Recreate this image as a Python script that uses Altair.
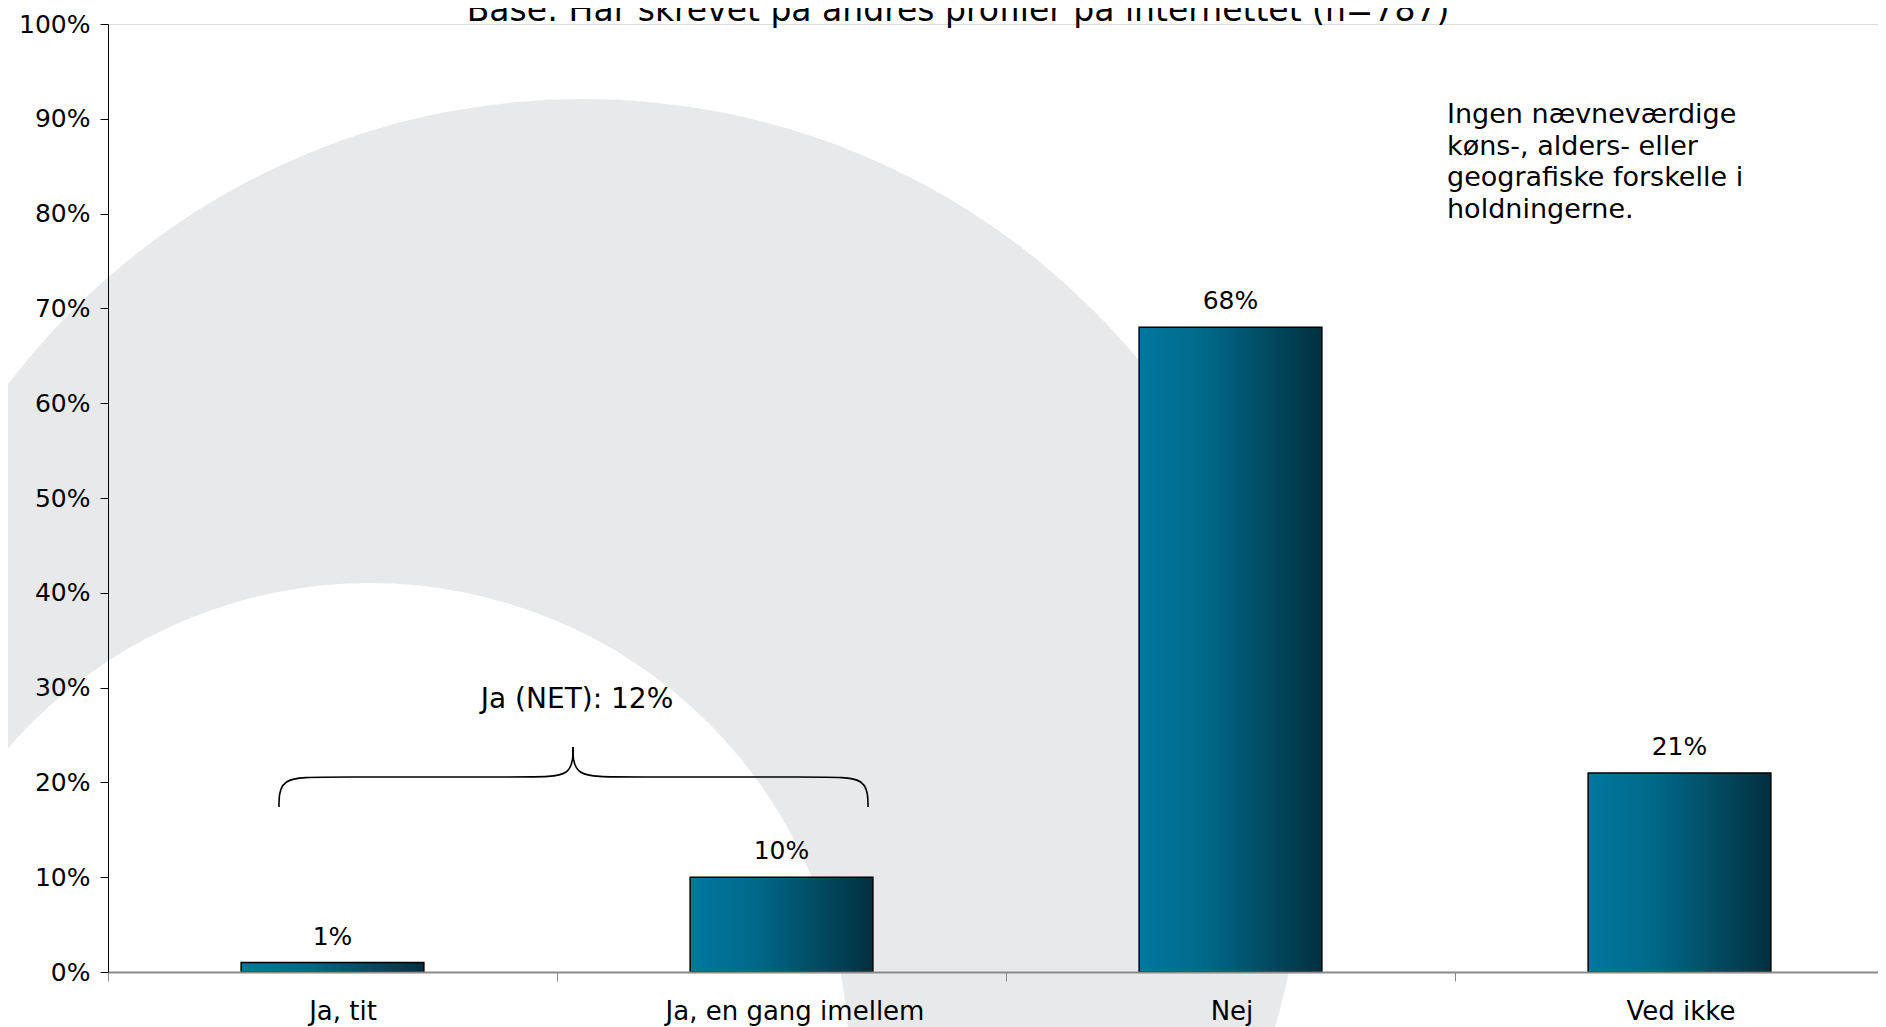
import altair as alt
import pandas as pd

# ---- data ----
categories = ["Ja, tit", "Ja, en gang imellem", "Nej", "Ved ikke"]
shares = [0.01, 0.10, 0.68, 0.21]
share_labels = ["1%", "10%", "68%", "21%"]
y_ticks = [0.0, 0.1, 0.2, 0.3, 0.4, 0.5, 0.6, 0.7, 0.8, 0.9, 1.0]

title_text = "Base: Har skrevet på andres profiler på internettet (n=787)"
net_text = "Ja (NET): 12%"
note_lines = ["Ingen nævneværdige", "køns-, alders- eller", "geografiske forskelle i", "holdningerne."]

# decoration geometry (plot-area pixels)
ring_outer = dict(cx=475, cy=797, r=722)
ring_inner = dict(cx=262, cy=1038, r=479)
brace_x = [171, 171, 216, 423, 465, 465, 465, 465, 510, 716, 760, 760]
brace_y = [783, 753, 753, 753, 753, 723, 723, 753, 753, 753, 753, 783]
brace_side = ["L"] * 6 + ["R"] * 6

FONT = "DejaVu Sans"
W, H = 1770, 948

df = pd.DataFrame({"cat": categories, "share": shares, "lab": share_labels})
one = pd.DataFrame({"k": [0]})
brace_df = pd.DataFrame({"bx": brace_x, "by": brace_y, "side": brace_side,
                         "o": list(range(len(brace_x)))})

xscale = alt.Scale(domain=categories, range=[0, 1796], paddingInner=0, paddingOuter=0)
yscale = alt.Scale(domain=[0, 1])

outer = alt.Chart(one).mark_arc(radius=ring_outer["r"], theta=0, theta2=6.2832,
                                color="#e8e9eb").encode(
    x=alt.value(ring_outer["cx"]), y=alt.value(ring_outer["cy"]))
inner = alt.Chart(one).mark_arc(radius=ring_inner["r"], theta=0, theta2=6.2832,
                                color="#ffffff").encode(
    x=alt.value(ring_inner["cx"]), y=alt.value(ring_inner["cy"]))

grad = alt.Gradient(
    gradient="linear",
    stops=[alt.GradientStop(color="#00789d", offset=0),
           alt.GradientStop(color="#00698b", offset=0.35),
           alt.GradientStop(color="#024f68", offset=0.65),
           alt.GradientStop(color="#02303f", offset=1)],
    x1=0, x2=1, y1=0, y2=0)

label_shift = {
    "condition": [
        {"test": "datum.value === 'Ja, tit'", "value": 10},
        {"test": "datum.value === 'Ja, en gang imellem'", "value": 13},
    ],
    "value": 1,
}

x_enc = alt.X("cat:N", scale=xscale, sort=categories, title=None,
              axis=alt.Axis(labelAngle=0, labelFont=FONT, labelFontSize=26,
                            labelColor="#000000", labelPadding=17, labelLimit=0,
                            labelOffset=label_shift,
                            domainColor="#8a8a8a", domainWidth=2,
                            tickColor="#8a8a8a", tickSize=9, tickWidth=1,
                            tickBand="extent", zindex=1))
y_enc = alt.Y("share:Q", scale=yscale, title=None,
              axis=alt.Axis(values=y_ticks, format=".0%", labelFont=FONT,
                            labelFontSize=25, labelColor="#000000",
                            labelPadding=10, domainColor="#000000",
                            tickColor="#000000", tickSize=8, grid=False,
                            zindex=1))

bars = alt.Chart(df).mark_bar(color=grad, stroke="#000000", strokeWidth=1.5,
                              width=alt.RelativeBandSize(0.407)).encode(
    x=x_enc, y=y_enc)

vlabels = alt.Chart(df).mark_text(font=FONT, fontSize=25, color="#000000",
                                  baseline="middle", dy=-26).encode(
    x=alt.X("cat:N", scale=xscale, sort=categories),
    y=alt.Y("share:Q", scale=yscale),
    text="lab:N")

brace = alt.Chart(brace_df).mark_line(color="#000000", strokeWidth=1.6,
                                      interpolate="basis").encode(
    x=alt.X("bx:Q", scale=None),
    y=alt.Y("by:Q", scale=None),
    detail="side:N",
    order="o:Q")

net = alt.Chart(one).mark_text(text=net_text, font=FONT, fontSize=28,
                               color="#000000", baseline="middle").encode(
    x=alt.value(469), y=alt.value(676))

title = alt.Chart(one).mark_text(text=title_text, font=FONT, fontSize=33,
                                 color="#000000", baseline="alphabetic").encode(
    x=alt.value(850), y=alt.value(-3))

note = alt.Chart(one).mark_text(text=note_lines, font=FONT, fontSize=27,
                                color="#000000", align="left", baseline="top",
                                lineHeight=31.6).encode(
    x=alt.value(1339), y=alt.value(78))

chart = alt.layer(outer, inner, bars, vlabels, brace, net, title, note).properties(
    width=W, height=H,
    autosize=alt.AutoSizeParams(type="none"),
    padding={"left": 100, "top": 16, "right": 0, "bottom": 60},
).configure_view(stroke=None).configure(background="#ffffff")

chart.save("out.html", embed_options={"renderer": "svg", "actions": False})
